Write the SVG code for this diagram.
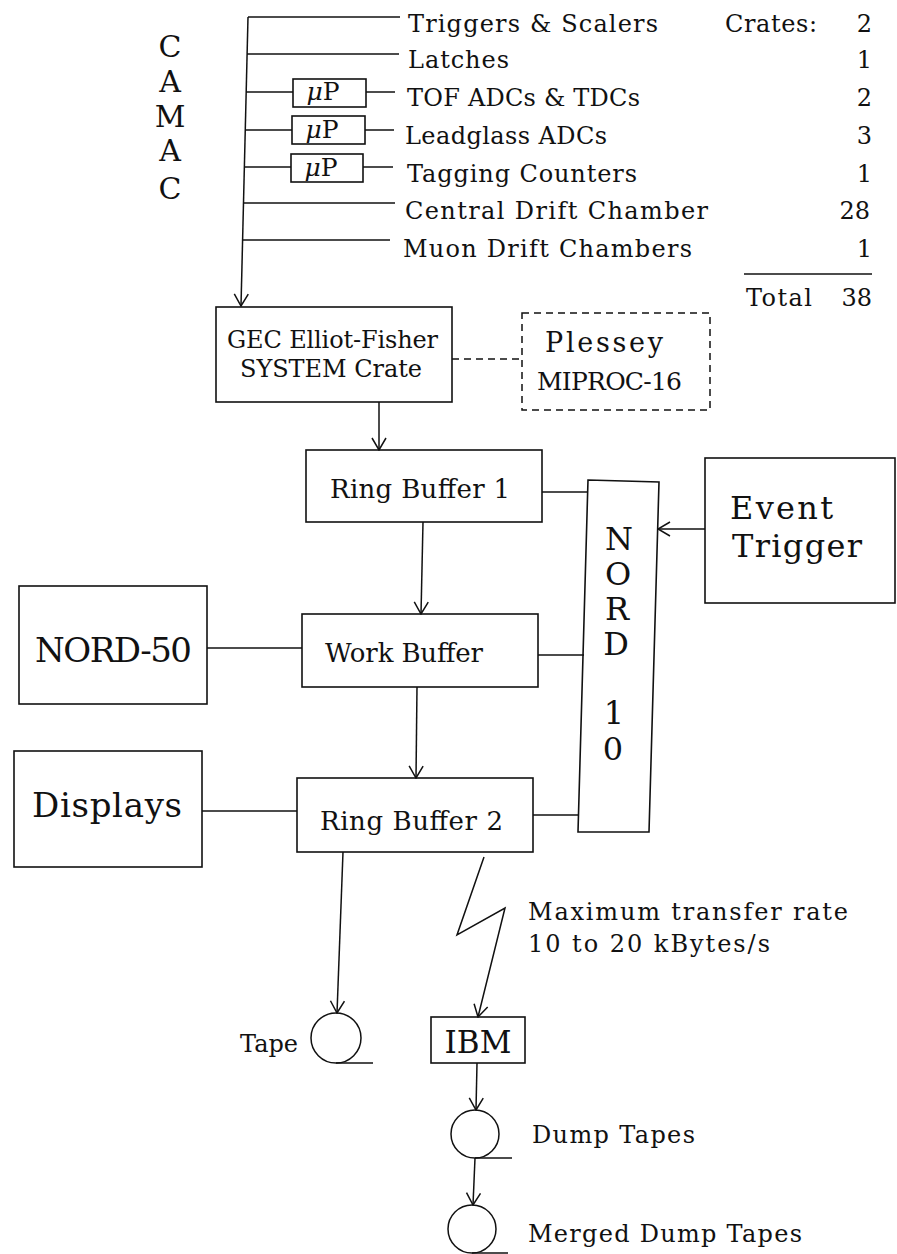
<svg xmlns="http://www.w3.org/2000/svg" width="897" height="1254" viewBox="0 0 897 1254">
<style>
text{font-family:"DejaVu Serif","Liberation Serif",serif;fill:#111}
.ln{stroke:#111;stroke-width:1.5;fill:none}
.bx{stroke:#111;stroke-width:1.6;fill:#fff}
.dash{stroke:#111;stroke-width:1.5;fill:none;stroke-dasharray:7 5}
.s25{font-size:24px}
.big{font-size:34px}
.mid{font-size:25px}
.buf{font-size:26px}
.m{text-anchor:middle}
</style>
<defs>
<marker id="ah" viewBox="0 0 14 16" refX="13" refY="8" markerWidth="14" markerHeight="16" markerUnits="userSpaceOnUse" orient="auto">
<path d="M1,1 L13,8 L1,15" fill="none" stroke="#111" stroke-width="1.5"/>
</marker>
</defs>
<rect width="897" height="1254" fill="#fff"/>

<g id="camac-label">
<text x="170" y="57" class="m" font-size="30">C</text>
<text x="170" y="92" class="m" font-size="30">A</text>
<text x="170" y="127" class="m" font-size="30">M</text>
<text x="170" y="161" class="m" font-size="30">A</text>
<text x="170" y="199" class="m" font-size="30">C</text>
</g>

<g id="crates-table" class="s25">
<text x="408" y="32" textLength="250" lengthAdjust="spacing">Triggers &amp; Scalers</text>
<text x="408" y="68" textLength="101" lengthAdjust="spacing">Latches</text>
<text x="407" y="106" textLength="233" lengthAdjust="spacing">TOF ADCs &amp; TDCs</text>
<text x="405" y="144" textLength="202" lengthAdjust="spacing">Leadglass ADCs</text>
<text x="407" y="182" textLength="230" lengthAdjust="spacing">Tagging Counters</text>
<text x="405" y="219" textLength="303" lengthAdjust="spacing">Central Drift Chamber</text>
<text x="403" y="257" textLength="289" lengthAdjust="spacing">Muon Drift Chambers</text>
<text x="725" y="32" textLength="92" lengthAdjust="spacing">Crates:</text>
<text x="872" y="32" text-anchor="end">2</text>
<text x="872" y="68" text-anchor="end">1</text>
<text x="872" y="106" text-anchor="end">2</text>
<text x="872" y="144" text-anchor="end">3</text>
<text x="872" y="182" text-anchor="end">1</text>
<text x="870" y="219" text-anchor="end">28</text>
<text x="872" y="257" text-anchor="end">1</text>
<line x1="744" y1="274" x2="872" y2="274" class="ln"/>
<text x="746" y="306" textLength="66" lengthAdjust="spacing">Total</text>
<text x="872" y="306" text-anchor="end">38</text>
</g>

<g id="up1"><rect x="293" y="79" width="73" height="28" class="bx"/><text x="323" y="100" class="m mid"><tspan font-style="italic">μ</tspan>P</text></g>
<g id="up2"><rect x="292" y="116" width="73" height="28" class="bx"/><text x="322" y="138" class="m mid"><tspan font-style="italic">μ</tspan>P</text></g>
<g id="up3"><rect x="291" y="154" width="72" height="28" class="bx"/><text x="321" y="176" class="m mid"><tspan font-style="italic">μ</tspan>P</text></g>

<g id="gec"><rect x="216" y="307" width="236" height="95" class="bx"/>
<text x="227" y="348" font-size="24" textLength="211" lengthAdjust="spacing">GEC Elliot-Fisher</text>
<text x="240" y="377" font-size="24" textLength="182" lengthAdjust="spacing">SYSTEM Crate</text></g>

<g id="plessey"><rect x="522" y="313" width="188" height="97" class="dash"/>
<text x="545" y="352" font-size="27" textLength="118" lengthAdjust="spacing">Plessey</text>
<text x="537" y="390" font-size="25" textLength="145" lengthAdjust="spacing">MIPROC-16</text></g>

<g id="rb1"><rect x="306" y="450" width="236" height="72" class="bx"/>
<text x="330" y="498" class="buf" textLength="180" lengthAdjust="spacing">Ring Buffer 1</text></g>

<g id="wb"><rect x="302" y="614" width="236" height="73" class="bx"/>
<text x="325" y="662" class="buf" textLength="158" lengthAdjust="spacing">Work Buffer</text></g>

<g id="rb2"><rect x="297" y="778" width="236" height="74" class="bx"/>
<text x="320" y="830" class="buf" textLength="183" lengthAdjust="spacing">Ring Buffer 2</text></g>

<g id="nord10"><polygon points="588,480 659,482 649,832 578,832" class="bx"/>
<g font-size="32" class="m">
<text x="619" y="550">N</text>
<text x="618" y="585">O</text>
<text x="617" y="620">R</text>
<text x="616" y="655">D</text>
<text x="614" y="724">1</text>
<text x="613" y="760">0</text>
</g></g>

<g id="event"><rect x="705" y="458" width="190" height="145" class="bx"/>
<text x="730" y="519" font-size="32" textLength="103" lengthAdjust="spacing">Event</text>
<text x="732" y="557" font-size="32" textLength="130" lengthAdjust="spacing">Trigger</text></g>

<g id="nord50"><rect x="19" y="586" width="188" height="118" class="bx"/>
<text x="35" y="662" class="big" textLength="157" lengthAdjust="spacing">NORD-50</text></g>

<g id="displays"><rect x="14" y="751" width="188" height="116" class="bx"/>
<text x="32" y="817" class="big" textLength="150" lengthAdjust="spacing">Displays</text></g>

<g id="ibm"><rect x="431" y="1017" width="94" height="46" class="bx"/>
<text x="478" y="1053" class="m" font-size="31">IBM</text></g>

<g id="tape"><circle cx="336" cy="1038" r="25" class="ln"/><line x1="336" y1="1063" x2="373" y2="1063" class="ln"/>
<text x="240" y="1052" class="s25" textLength="58" lengthAdjust="spacing">Tape</text></g>

<g id="dump"><circle cx="475" cy="1134" r="24" class="ln"/><line x1="475" y1="1158" x2="512" y2="1158" class="ln"/>
<text x="532" y="1143" class="s25" textLength="163" lengthAdjust="spacing">Dump Tapes</text></g>

<g id="merged"><circle cx="472" cy="1229" r="24" class="ln"/><line x1="472" y1="1253" x2="508" y2="1253" class="ln"/>
<text x="528" y="1242" class="s25" textLength="274" lengthAdjust="spacing">Merged Dump Tapes</text></g>

<g id="rate-label" class="s25">
<text x="528" y="920" textLength="320" lengthAdjust="spacing">Maximum transfer rate</text>
<text x="528" y="952" textLength="242" lengthAdjust="spacing">10 to 20 kBytes/s</text>
</g>

<g id="connectors">
<line x1="248" y1="17" x2="241" y2="306" class="ln" marker-end="url(#ah)"/>
<line x1="248" y1="17" x2="400" y2="17" class="ln"/>
<line x1="247" y1="54" x2="399" y2="54" class="ln"/>
<line x1="246" y1="92" x2="293" y2="92" class="ln"/>
<line x1="366" y1="92" x2="395" y2="92" class="ln"/>
<line x1="245" y1="130" x2="292" y2="130" class="ln"/>
<line x1="365" y1="130" x2="394" y2="130" class="ln"/>
<line x1="244" y1="167" x2="291" y2="167" class="ln"/>
<line x1="363" y1="167" x2="393" y2="167" class="ln"/>
<line x1="243" y1="203" x2="395" y2="203" class="ln"/>
<line x1="243" y1="240" x2="390" y2="240" class="ln"/>
<line x1="452" y1="359" x2="522" y2="359" class="dash"/>
<line x1="379" y1="402" x2="379" y2="450" class="ln" marker-end="url(#ah)"/>
<line x1="423" y1="522" x2="421" y2="614" class="ln" marker-end="url(#ah)"/>
<line x1="417" y1="687" x2="416" y2="778" class="ln" marker-end="url(#ah)"/>
<line x1="542" y1="492" x2="588" y2="492" class="ln"/>
<line x1="538" y1="655" x2="584" y2="655" class="ln"/>
<line x1="533" y1="815" x2="579" y2="815" class="ln"/>
<line x1="705" y1="529" x2="658" y2="529" class="ln" marker-end="url(#ah)"/>
<line x1="207" y1="648" x2="302" y2="648" class="ln"/>
<line x1="202" y1="811" x2="297" y2="811" class="ln"/>
<line x1="343" y1="852" x2="337" y2="1013" class="ln" marker-end="url(#ah)"/>
<polyline points="484,857 457,935 505,908 478,1017" class="ln" marker-end="url(#ah)"/>
<line x1="477" y1="1063" x2="476" y2="1110" class="ln" marker-end="url(#ah)"/>
<line x1="475" y1="1158" x2="473" y2="1205" class="ln" marker-end="url(#ah)"/>
</g>
</svg>
